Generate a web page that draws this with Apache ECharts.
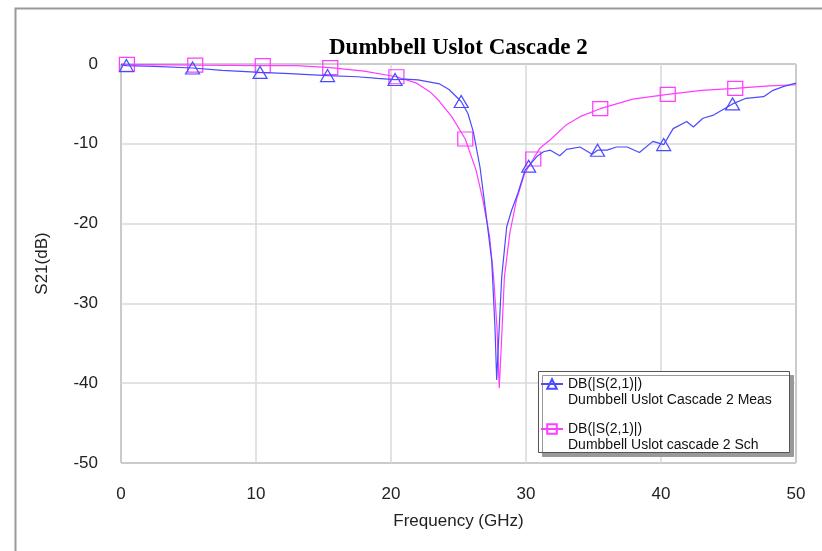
<!DOCTYPE html>
<html>
<head>
<meta charset="utf-8">
<script src="https://cdn.jsdelivr.net/npm/echarts@6/dist/echarts.min.js"></script>
<style>html,body{margin:0;padding:0;background:#fff}#c{width:822px;height:551px}</style>
</head>
<body>
<div id="c"></div>
<script>
var titleText = 'Dumbbell Uslot Cascade 2';
var xTicks = [0, 10, 20, 30, 40, 50];
var yTicks = [0, -10, -20, -30, -40, -50];
var measName = 'DB(|S(2,1)|)\nDumbbell Uslot Cascade 2 Meas';
var schName = 'DB(|S(2,1)|)\nDumbbell Uslot cascade 2 Sch';

var measFreq = [0, 0.4, 2.5, 5.3, 7.5, 10.3, 12.5, 15.3, 17.5, 19, 20.3, 21, 22, 23, 23.6, 24.3, 25.2, 25.7, 26.1, 26.6, 27.09, 27.46, 27.7, 27.83, 28.02, 28.2, 28.57, 28.94, 29.4, 29.93, 30.2, 30.8, 31.3, 31.8, 32.5, 33.0, 34.0, 34.9, 35.3, 36.0, 36.7, 37.5, 38.4, 39.4, 40.2, 40.9, 41.9, 42.4, 43.1, 43.9, 45.3, 46.3, 47.6, 48.3, 49.1, 50];
var measDb = [-0.1, -0.2, -0.3, -0.5, -0.8, -1.05, -1.2, -1.45, -1.6, -1.8, -1.95, -1.9, -2.0, -2.3, -2.5, -3.2, -4.7, -6.2, -8.5, -13, -19.5, -24.6, -32.9, -39.6, -32.9, -26.7, -20.4, -18.3, -16.2, -13.3, -12.8, -11.6, -11.0, -10.8, -11.5, -10.7, -10.4, -11.3, -10.8, -10.8, -10.4, -10.4, -11.1, -9.7, -10.1, -8.1, -7.2, -7.9, -6.8, -6.4, -5.0, -4.3, -4.1, -3.3, -2.8, -2.4];
var measMarkers = [0.4, 5.3, 10.3, 15.3, 20.3, 25.2, 30.2, 35.3, 40.2, 45.3];

var schFreq = [0, 0.44, 5.5, 10.5, 13, 15.5, 18, 20.4, 21.9, 22.9, 23.6, 24.5, 25.5, 26.3, 26.8, 27.3, 27.6, 27.85, 28.02, 28.2, 28.4, 28.8, 29.3, 29.9, 30.54, 31, 31.8, 33, 34, 35.5, 37.9, 40.5, 43, 45.5, 48, 50];
var schDb = [0, -0.05, -0.15, -0.2, -0.2, -0.45, -0.9, -1.6, -2.4, -3.5, -4.7, -6.6, -9.4, -13.3, -17.0, -21.6, -26.7, -33.0, -40.6, -34.2, -26.7, -21.2, -17.0, -13.7, -11.9, -10.6, -9.5, -7.6, -6.6, -5.6, -4.4, -3.8, -3.3, -3.05, -2.75, -2.6];
var schMarkers = [0.44, 5.5, 10.5, 15.5, 20.4, 25.5, 30.54, 35.5, 40.5, 45.5];

function build(fx, fy, markers) {
  return fx.map(function (x, i) {
    var item = { value: [x, fy[i]] };
    if (markers.indexOf(x) < 0) item.symbol = 'none';
    return item;
  });
}

var blue = '#4a4aff';
var pink = '#ff3cff';
var sans = '"Liberation Sans", Arial, sans-serif';

var chart = echarts.init(document.getElementById('c'), null, { renderer: 'canvas' });
chart.setOption({
  animation: false,
  backgroundColor: '#fff',
  title: {
    text: titleText, left: 324, top: 32,
    textStyle: { fontFamily: '"Liberation Serif", "Times New Roman", serif', fontWeight: 'bold', fontSize: 23, color: '#000' }
  },
  graphic: [{
    type: 'rect', left: 13, top: 6, shape: { width: 830, height: 560 }, z: 0,
    style: { fill: 'none', stroke: '#999', lineWidth: 2 }, silent: true
  }, {
    type: 'rect', left: 538, top: 371, shape: { width: 251, height: 81 }, z: 20,
    style: { fill: '#fff', stroke: '#555', lineWidth: 1, shadowColor: '#999', shadowOffsetX: 4, shadowOffsetY: 4, shadowBlur: 0 },
    silent: true
  }],
  grid: { left: 121, right: 26, top: 64, bottom: 88, show: true, borderColor: '#444', borderWidth: 1, backgroundColor: 'transparent' },
  xAxis: {
    type: 'value', min: 0, max: 50, interval: 10,
    name: 'Frequency (GHz)', nameLocation: 'middle', nameGap: 50,
    nameTextStyle: { fontFamily: sans, fontSize: 17, color: '#222' },
    axisLine: { show: false }, axisTick: { show: false },
    axisLabel: { fontFamily: sans, fontSize: 17, color: '#222', margin: 23 },
    splitLine: { show: true, lineStyle: { color: '#d8d8d8', width: 1.5 } }
  },
  yAxis: {
    type: 'value', min: -50, max: 0, interval: 10,
    name: 'S21(dB)', nameLocation: 'middle', nameGap: 70, nameRotate: 90,
    nameTextStyle: { fontFamily: sans, fontSize: 17, color: '#222' },
    axisLine: { show: false }, axisTick: { show: false },
    axisLabel: { fontFamily: sans, fontSize: 17, color: '#222', margin: 23 },
    splitLine: { show: true, lineStyle: { color: '#d8d8d8', width: 1.5 } }
  },
  legend: {
    orient: 'vertical', left: 538, top: 356, z: 30,
    padding: [4, 4, 4, 2], itemGap: -3, itemWidth: 22, itemHeight: 12,
    textStyle: { fontFamily: sans, fontSize: 14, color: '#111', lineHeight: 16 },
    formatter: function (n) { return ' \n' + n; },
    data: [measName, schName]
  },
  series: [
    {
      name: schName, type: 'line', data: build(schFreq, schDb, schMarkers),
      symbol: 'rect', symbolSize: [15, 14], showSymbol: true, showAllSymbol: true,
      lineStyle: { color: pink, width: 1.2 },
      itemStyle: { color: 'rgba(0,0,0,0)', borderColor: pink, borderWidth: 1.2 },
      emphasis: { disabled: true }, z: 2
    },
    {
      name: measName, type: 'line', data: build(measFreq, measDb, measMarkers),
      symbol: 'triangle', symbolSize: [14, 12], showSymbol: true, showAllSymbol: true,
      lineStyle: { color: blue, width: 1.2 },
      itemStyle: { color: 'rgba(0,0,0,0)', borderColor: blue, borderWidth: 1.2 },
      emphasis: { disabled: true }, z: 3
    }
  ]
});
</script>
</body>
</html>
